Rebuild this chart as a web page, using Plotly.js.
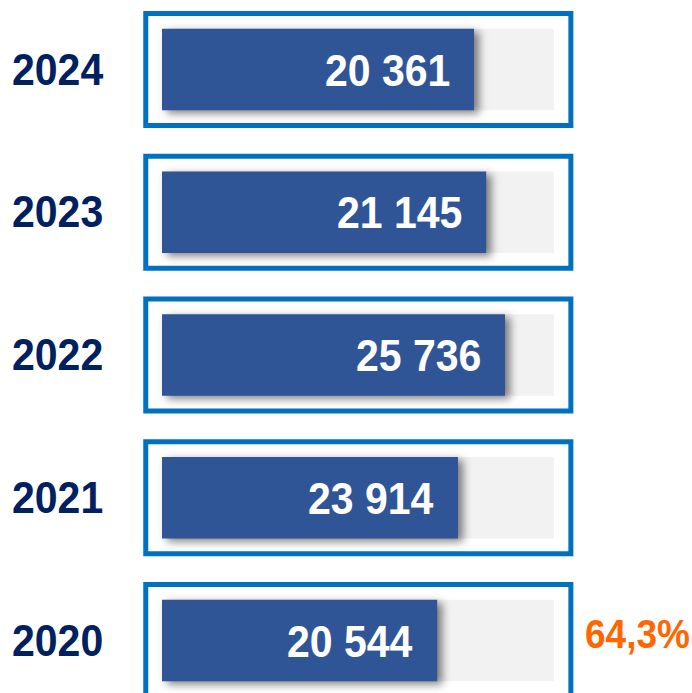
<!DOCTYPE html>
<html>
<head>
<meta charset="utf-8">
<script src="https://cdn.plot.ly/plotly-3.0.1.min.js"></script>
<style>
  html, body { margin: 0; padding: 0; background: #ffffff; }
  #chart { width: 692px; height: 693px; }
</style>
</head>
<body>
<div id="chart"></div>
<script>
// ---- data ----
const years = ['2020', '2021', '2022', '2023', '2024'];
const valueLabels = ['20 544', '23 914', '25 736', '21 145', '20 361'];
// bar length as a share of the full grey track (%)
const barPct = [70.2, 75.5, 87.5, 82.7, 79.6];
const trackPct = [100, 100, 100, 100, 100];
const sideNote = '64,3%';
const sideNoteYear = '2020';

// ---- styling ----
const navy = '#002060';
const barBlue = '#2F5597';
const frameBlue = '#0070C0';
const trackGrey = '#F2F2F2';
const orange = '#FF6600';
const fontFam = '"Liberation Sans", Arial, "DejaVu Sans", sans-serif';

const barWidth = 0.57;

const traces = [
  {
    type: 'bar', orientation: 'h', y: years, x: trackPct,
    width: barWidth, marker: { color: trackGrey, line: { width: 0 } },
    hoverinfo: 'skip', showlegend: false
  },
  {
    type: 'bar', orientation: 'h', y: years, x: barPct,
    width: barWidth, marker: { color: barBlue, line: { width: 0 } },
    hoverinfo: 'skip', showlegend: false
  }
];

const shapes = years.map((yr, i) => ({
  type: 'rect', xref: 'x', yref: 'y',
  x0: -4.15, x1: 104.3, y0: i - 0.392, y1: i + 0.392,
  line: { color: frameBlue, width: 5 }, fillcolor: 'rgba(0,0,0,0)', layer: 'below'
}));

const annotations = [];
years.forEach((yr, i) => {
  annotations.push({
    xref: 'paper', yref: 'y', x: 57 / 692, y: i,
    text: yr, showarrow: false, xanchor: 'center', yanchor: 'middle',
    font: { family: fontFam, size: 41, color: navy, weight: 'bold' }
  });
  annotations.push({
    xref: 'x', yref: 'y', x: barPct[i], y: i, xshift: -22, yshift: -1,
    text: valueLabels[i], showarrow: false, xanchor: 'right', yanchor: 'middle',
    font: { family: fontFam, size: 41, color: '#ffffff', weight: 'bold' }
  });
});
annotations.push({
  xref: 'paper', yref: 'y', x: 583 / 692, y: years.indexOf(sideNoteYear), yshift: 6,
  text: sideNote, showarrow: false, xanchor: 'left', yanchor: 'middle',
  font: { family: fontFam, size: 37, color: orange, weight: 'bold' }
});

const layout = {
  width: 692, height: 693,
  margin: { l: 0, r: 0, t: 0, b: 0, pad: 0 },
  paper_bgcolor: '#ffffff', plot_bgcolor: '#ffffff',
  barmode: 'overlay',
  showlegend: false,
  xaxis: { range: [-41.33, 135.2], visible: false, fixedrange: true },
  yaxis: { type: 'category', categoryorder: 'array', categoryarray: years,
           range: [-0.3678, 4.4869], visible: false, fixedrange: true },
  shapes: shapes,
  annotations: annotations,
  font: { family: fontFam }
};

Plotly.newPlot('chart', traces, layout, { staticPlot: true, displayModeBar: false }).then(() => {
  const tr = document.querySelectorAll('#chart .barlayer .trace');
  if (tr.length > 1) {
    tr[1].querySelectorAll('path').forEach(p => {
      p.style.filter = 'drop-shadow(5px 3px 4px rgba(0,0,0,0.5))';
    });
  }
  // the reference's lettering is slightly taller than standard proportions
  document.querySelectorAll('#chart .annotation text').forEach(t => {
    t.style.transformBox = 'fill-box';
    t.style.transformOrigin = 'center';
    t.style.transform = 'scaleY(1.1)';
  });
});
</script>
</body>
</html>
